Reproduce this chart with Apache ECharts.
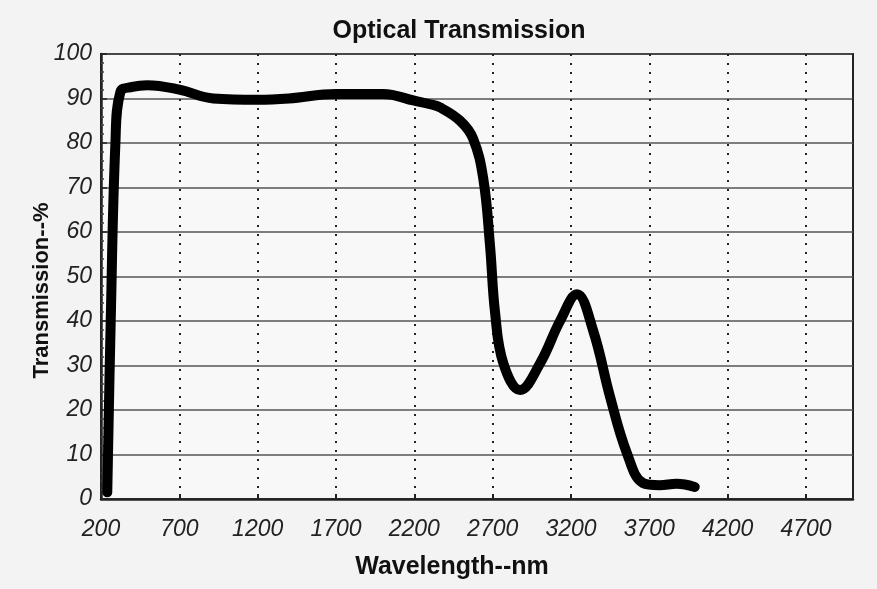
<!DOCTYPE html>
<html><head><meta charset="utf-8">
<script src="https://cdn.jsdelivr.net/npm/echarts@6/dist/echarts.min.js"></script>
<style>html,body{margin:0;padding:0;background:#ffffff}#c{width:877px;height:589px}</style>
</head><body><div id="c"></div>
<script>
var wavelengths = [240, 262, 292, 324, 400, 495, 700, 917, 1200, 1400, 1700, 2000, 2200, 2300, 2364, 2492, 2575, 2640, 2683, 2715, 2768, 2875, 3003, 3130, 3238, 3340, 3449, 3557, 3659, 3765, 3874, 3990];
var transmission = [1.5, 40, 80, 91.5, 92.6, 93, 92, 90, 89.7, 90, 91, 91, 89.5, 88.7, 88, 85, 81, 72, 57, 42, 30.5, 24.5, 30.5, 40, 46, 38, 23, 10.3, 3.6, 3.1, 3.4, 2.7];
var xTickStart = 200, xTickStep = 500, xMax = 5000;
var yMin = 0, yMax = 100, yStep = 10;

var pts = wavelengths.map(function (w, i) { return [w, transmission[i]]; });
var lab = { fontFamily: 'Liberation Sans, Arial, sans-serif', fontStyle: 'italic', fontSize: 23, color: '#222',
  formatter: function (v) { return String(v); } };
var bold = { fontFamily: 'Liberation Sans, Arial, sans-serif', fontWeight: 'bold', color: '#111' };
var chart = echarts.init(document.getElementById('c'));
chart.setOption({
  backgroundColor: '#f3f3f3',
  animation: false,
  title: { text: 'Optical Transmission', left: 454, top: 14, textAlign: 'center',
    textStyle: Object.assign({ fontSize: 25 }, bold) },
  grid: { left: 101, top: 54, right: 24, bottom: 90, show: true, backgroundColor: '#f8f8f8', borderColor: '#222', borderWidth: 2 },
  xAxis: {
    type: 'value', min: xTickStart, max: xMax, interval: xTickStep,
    name: 'Wavelength--nm', nameLocation: 'middle', nameGap: 56, nameMoveOverlap: false,
    nameTextStyle: Object.assign({ fontSize: 25, padding: [0, 50, 0, 0] }, bold),
    axisLine: { lineStyle: { color: '#222', width: 2.5 } },
    axisTick: { show: true, inside: true, length: 5, lineStyle: { color: '#222', width: 2 } },
    axisLabel: Object.assign({ margin: 19, showMaxLabel: false }, lab),
    splitLine: { show: true, lineStyle: { color: '#222', width: 2, type: [2, 7] } }
  },
  yAxis: {
    type: 'value', min: yMin, max: yMax, interval: yStep,
    name: 'Transmission--%', nameLocation: 'middle', nameGap: 48, nameMoveOverlap: false,
    nameTextStyle: Object.assign({ fontSize: 22, padding: [0, 28, 0, 0] }, bold),
    axisLine: { show: true, lineStyle: { color: '#222', width: 2.5 } },
    axisTick: { show: true, inside: true, length: 6, lineStyle: { color: '#222', width: 1.5 } },
    minorTick: { show: true, splitNumber: 5, length: 3, lineStyle: { color: '#444', width: 1.5 } },
    axisLabel: Object.assign({ margin: 9 }, lab),
    splitLine: { show: true, lineStyle: { color: '#555', width: 1.5 } }
  },
  series: [{
    type: 'line', data: pts, smooth: 0.4, showSymbol: false,
    lineStyle: { color: '#000', width: 10, cap: 'round', join: 'round' }
  }]
});
</script></body></html>
